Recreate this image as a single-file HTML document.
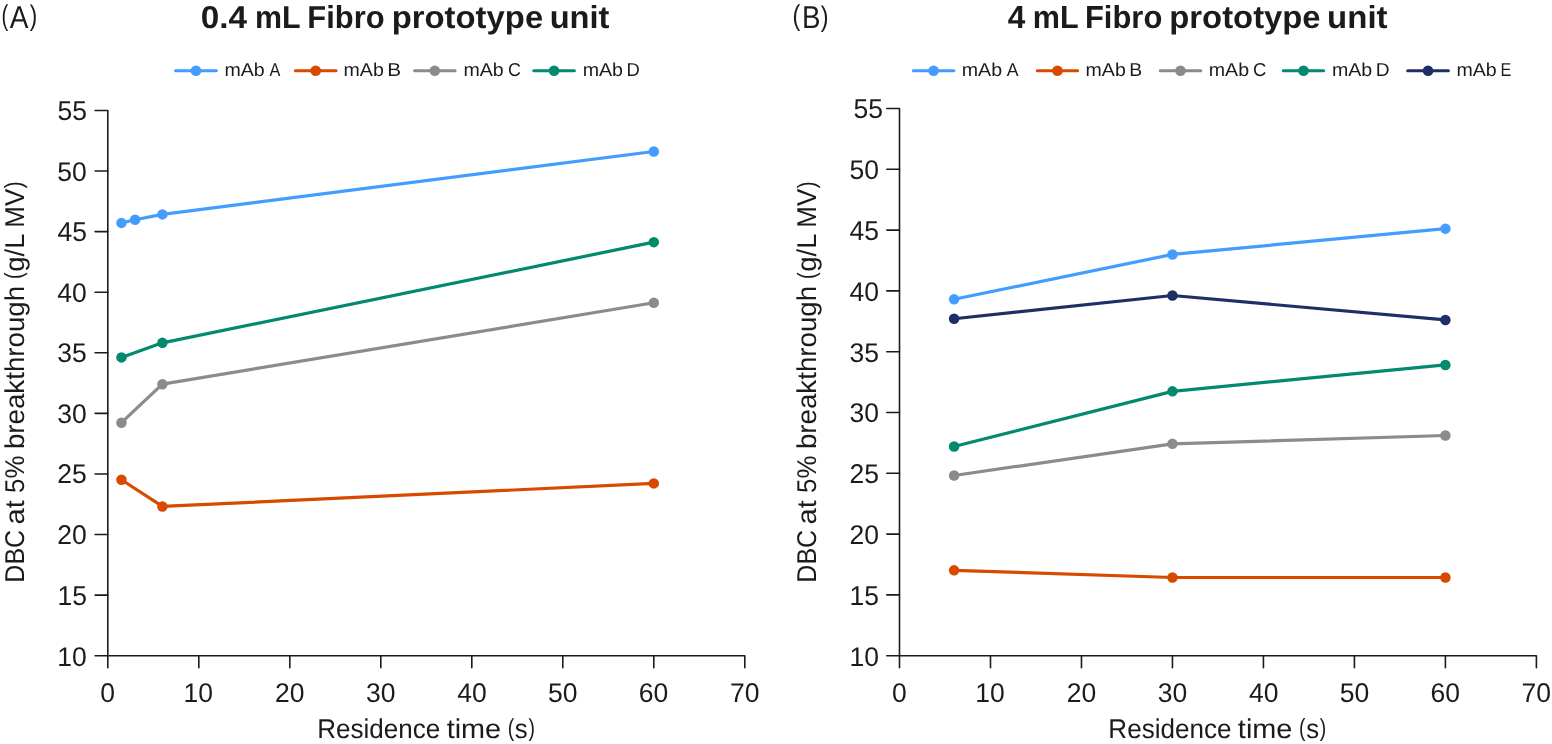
<!DOCTYPE html>
<html><head><meta charset="utf-8"><title>DBC vs residence time</title>
<style>
html,body{margin:0;padding:0;background:#fff;}
body{width:1552px;height:744px;overflow:hidden;}
svg{display:block;will-change:transform;text-rendering:geometricPrecision;font-family:"Liberation Sans",sans-serif;fill:#1b1b1e;}
</style></head><body>
<svg width="1552" height="744" viewBox="0 0 1552 744">
<path d="M175.5 70.7H216.4" stroke="#439dff" stroke-width="3.0" stroke-linecap="round"/>
<circle cx="195.95" cy="70.7" r="5.3" fill="#439dff"/>
<path d="M295.4 70.7H336" stroke="#d84a00" stroke-width="3.0" stroke-linecap="round"/>
<circle cx="315.7" cy="70.7" r="5.3" fill="#d84a00"/>
<path d="M414.5 70.7H455.1" stroke="#8b8b8d" stroke-width="3.0" stroke-linecap="round"/>
<circle cx="434.8" cy="70.7" r="5.3" fill="#8b8b8d"/>
<path d="M533.7 70.7H574.4" stroke="#02896e" stroke-width="3.0" stroke-linecap="round"/>
<circle cx="554.05" cy="70.7" r="5.3" fill="#02896e"/>
<path d="M913.3 70.7H953.9" stroke="#439dff" stroke-width="3.0" stroke-linecap="round"/>
<circle cx="933.6" cy="70.7" r="5.3" fill="#439dff"/>
<path d="M1037.3 70.7H1077.6" stroke="#d84a00" stroke-width="3.0" stroke-linecap="round"/>
<circle cx="1057.45" cy="70.7" r="5.3" fill="#d84a00"/>
<path d="M1160.2 70.7H1200.8" stroke="#8b8b8d" stroke-width="3.0" stroke-linecap="round"/>
<circle cx="1180.5" cy="70.7" r="5.3" fill="#8b8b8d"/>
<path d="M1283.3 70.7H1323.7" stroke="#02896e" stroke-width="3.0" stroke-linecap="round"/>
<circle cx="1303.5" cy="70.7" r="5.3" fill="#02896e"/>
<path d="M1407.7 70.7H1448.4" stroke="#1e2f66" stroke-width="3.0" stroke-linecap="round"/>
<circle cx="1428.05" cy="70.7" r="5.3" fill="#1e2f66"/>
<path d="M95.1 110.45H107.8V667.8" fill="none" stroke="#1b1b1e" stroke-width="1.6" stroke-linejoin="round" stroke-linecap="round"/>
<path d="M95.1 655.7H744.8V667.8" fill="none" stroke="#1b1b1e" stroke-width="1.6" stroke-linejoin="round" stroke-linecap="round"/>
<path d="M95.1 595.12H107.8M95.1 534.53H107.8M95.1 473.95H107.8M95.1 413.37H107.8M95.1 352.78H107.8M95.1 292.2H107.8M95.1 231.62H107.8M95.1 171.03H107.8M198.8 655.7V667.8M289.8 655.7V667.8M380.8 655.7V667.8M471.8 655.7V667.8M562.8 655.7V667.8M653.8 655.7V667.8" fill="none" stroke="#1b1b1e" stroke-width="1.6" stroke-linecap="round"/>
<path d="M121.45 222.89L135.1 219.74L162.4 214.41L653.8 151.53" fill="none" stroke="#439dff" stroke-width="3.2" stroke-linejoin="round"/>
<circle cx="121.45" cy="222.89" r="5.25" fill="#439dff"/>
<circle cx="135.1" cy="219.74" r="5.25" fill="#439dff"/>
<circle cx="162.4" cy="214.41" r="5.25" fill="#439dff"/>
<circle cx="653.8" cy="151.53" r="5.25" fill="#439dff"/>
<path d="M121.45 479.77L162.4 506.42L653.8 483.4" fill="none" stroke="#d84a00" stroke-width="3.2" stroke-linejoin="round"/>
<circle cx="121.45" cy="479.77" r="5.25" fill="#d84a00"/>
<circle cx="162.4" cy="506.42" r="5.25" fill="#d84a00"/>
<circle cx="653.8" cy="483.4" r="5.25" fill="#d84a00"/>
<path d="M121.45 422.7L162.4 384.17L653.8 302.74" fill="none" stroke="#8b8b8d" stroke-width="3.2" stroke-linejoin="round"/>
<circle cx="121.45" cy="422.7" r="5.25" fill="#8b8b8d"/>
<circle cx="162.4" cy="384.17" r="5.25" fill="#8b8b8d"/>
<circle cx="653.8" cy="302.74" r="5.25" fill="#8b8b8d"/>
<path d="M121.45 357.39L162.4 342.85L653.8 242.16" fill="none" stroke="#02896e" stroke-width="3.2" stroke-linejoin="round"/>
<circle cx="121.45" cy="357.39" r="5.25" fill="#02896e"/>
<circle cx="162.4" cy="342.85" r="5.25" fill="#02896e"/>
<circle cx="653.8" cy="242.16" r="5.25" fill="#02896e"/>
<path d="M886.8 108.5H899.5V667.8" fill="none" stroke="#1b1b1e" stroke-width="1.6" stroke-linejoin="round" stroke-linecap="round"/>
<path d="M886.8 655.7H1536.4V667.8" fill="none" stroke="#1b1b1e" stroke-width="1.6" stroke-linejoin="round" stroke-linecap="round"/>
<path d="M886.8 594.9H899.5M886.8 534.1H899.5M886.8 473.3H899.5M886.8 412.5H899.5M886.8 351.7H899.5M886.8 290.9H899.5M886.8 230.1H899.5M886.8 169.3H899.5M990.49 655.7V667.8M1081.47 655.7V667.8M1172.46 655.7V667.8M1263.44 655.7V667.8M1354.43 655.7V667.8M1445.41 655.7V667.8" fill="none" stroke="#1b1b1e" stroke-width="1.6" stroke-linecap="round"/>
<path d="M954.09 299.29L1172.46 254.42L1445.41 228.64" fill="none" stroke="#439dff" stroke-width="3.2" stroke-linejoin="round"/>
<circle cx="954.09" cy="299.29" r="5.25" fill="#439dff"/>
<circle cx="1172.46" cy="254.42" r="5.25" fill="#439dff"/>
<circle cx="1445.41" cy="228.64" r="5.25" fill="#439dff"/>
<path d="M954.09 570.34L1172.46 577.51L1445.41 577.51" fill="none" stroke="#d84a00" stroke-width="3.2" stroke-linejoin="round"/>
<circle cx="954.09" cy="570.34" r="5.25" fill="#d84a00"/>
<circle cx="1172.46" cy="577.51" r="5.25" fill="#d84a00"/>
<circle cx="1445.41" cy="577.51" r="5.25" fill="#d84a00"/>
<path d="M954.09 475.49L1172.46 443.87L1445.41 435.48" fill="none" stroke="#8b8b8d" stroke-width="3.2" stroke-linejoin="round"/>
<circle cx="954.09" cy="475.49" r="5.25" fill="#8b8b8d"/>
<circle cx="1172.46" cy="443.87" r="5.25" fill="#8b8b8d"/>
<circle cx="1445.41" cy="435.48" r="5.25" fill="#8b8b8d"/>
<path d="M954.09 446.43L1172.46 391.34L1445.41 364.95" fill="none" stroke="#02896e" stroke-width="3.2" stroke-linejoin="round"/>
<circle cx="954.09" cy="446.43" r="5.25" fill="#02896e"/>
<circle cx="1172.46" cy="391.34" r="5.25" fill="#02896e"/>
<circle cx="1445.41" cy="364.95" r="5.25" fill="#02896e"/>
<path d="M954.09 318.75L1172.46 295.52L1445.41 319.96" fill="none" stroke="#1e2f66" stroke-width="3.2" stroke-linejoin="round"/>
<circle cx="954.09" cy="318.75" r="5.25" fill="#1e2f66"/>
<circle cx="1172.46" cy="295.52" r="5.25" fill="#1e2f66"/>
<circle cx="1445.41" cy="319.96" r="5.25" fill="#1e2f66"/>
<text transform="translate(1.59,25.43) scale(0.6785,0.9510)" style="font-size:30px">(</text>
<text transform="translate(9.66,27.66) scale(0.9354,1.0590)" style="font-size:30px">A</text>
<text transform="translate(29.82,25.44) scale(0.7476,0.9494)" style="font-size:30px">)</text>
<text transform="translate(792.6,25.41) scale(0.7754,0.9505)" style="font-size:30px">(</text>
<text transform="translate(802.05,27.66) scale(0.9258,1.0590)" style="font-size:30px">B</text>
<text transform="translate(820.68,25.66) scale(0.7763,0.9491)" style="font-size:30px">)</text>
<text transform="translate(200.84,27.52) scale(1.0574,1.0035)" style="font-size:31.5px;font-weight:bold">0.4</text>
<text transform="translate(255.09,27.52) scale(0.9644,1.0035)" style="font-size:31.5px;font-weight:bold">mL</text>
<text transform="translate(307.37,27.52) scale(0.9825,1.0035)" style="font-size:31.5px;font-weight:bold">Fibro</text>
<text transform="translate(391.67,27.52) scale(1.0430,1.0035)" style="font-size:31.5px;font-weight:bold">prototype</text>
<text transform="translate(549.68,27.52) scale(1.0359,1.0035)" style="font-size:31.5px;font-weight:bold">unit</text>
<text transform="translate(1007.63,27.52) scale(1.0032,1.0114)" style="font-size:31.5px;font-weight:bold">4</text>
<text transform="translate(1032.87,27.52) scale(0.9702,1.0114)" style="font-size:31.5px;font-weight:bold">mL</text>
<text transform="translate(1084.93,27.52) scale(0.9824,1.0114)" style="font-size:31.5px;font-weight:bold">Fibro</text>
<text transform="translate(1169.3,27.52) scale(1.0418,1.0114)" style="font-size:31.5px;font-weight:bold">prototype</text>
<text transform="translate(1327.1,27.52) scale(1.0466,1.0114)" style="font-size:31.5px;font-weight:bold">unit</text>
<text transform="translate(224.48,75.66) scale(1.0583,1.0070)" style="font-size:18.5px">mAb</text>
<text transform="translate(269.62,75.66) scale(0.8791,1.0070)" style="font-size:18.5px">A</text>
<text transform="translate(343.57,75.66) scale(1.0570,1.0070)" style="font-size:18.5px">mAb</text>
<text transform="translate(387.15,75.66) scale(1.1209,1.0070)" style="font-size:18.5px">B</text>
<text transform="translate(463.48,75.66) scale(1.0583,1.0070)" style="font-size:18.5px">mAb</text>
<text transform="translate(507.89,75.66) scale(0.9661,1.0070)" style="font-size:18.5px">C</text>
<text transform="translate(582.63,75.66) scale(1.0602,1.0070)" style="font-size:18.5px">mAb</text>
<text transform="translate(626.44,75.66) scale(0.9945,1.0070)" style="font-size:18.5px">D</text>
<text transform="translate(961.72,75.66) scale(1.0600,1.0070)" style="font-size:18.5px">mAb</text>
<text transform="translate(1006.86,75.66) scale(0.9560,1.0070)" style="font-size:18.5px">A</text>
<text transform="translate(1085.57,75.66) scale(1.0570,1.0070)" style="font-size:18.5px">mAb</text>
<text transform="translate(1129.25,75.66) scale(1.0459,1.0070)" style="font-size:18.5px">B</text>
<text transform="translate(1208.72,75.66) scale(1.0600,1.0070)" style="font-size:18.5px">mAb</text>
<text transform="translate(1253.11,75.66) scale(0.9992,1.0070)" style="font-size:18.5px">C</text>
<text transform="translate(1331.97,75.66) scale(1.0586,1.0070)" style="font-size:18.5px">mAb</text>
<text transform="translate(1375.63,75.66) scale(1.0328,1.0070)" style="font-size:18.5px">D</text>
<text transform="translate(1456.48,75.66) scale(1.0583,1.0070)" style="font-size:18.5px">mAb</text>
<text transform="translate(1500.41,75.66) scale(0.8788,1.0070)" style="font-size:18.5px">E</text>
<text transform="translate(317.17,737.6) scale(1.0008,1.0426)" style="font-size:26px">Residence</text>
<text transform="translate(446.65,737.6) scale(1.1094,1.0426)" style="font-size:26px">time</text>
<text transform="translate(514.87,737.6) scale(0.9901,1.0426)" style="font-size:26px">s</text>
<text transform="translate(507.86,735.6) scale(0.7496,0.9470)" style="font-size:26px">(</text>
<text transform="translate(528.45,735.67) scale(0.7439,0.9488)" style="font-size:26px">)</text>
<text transform="translate(1108.37,737.6) scale(1.0012,1.0426)" style="font-size:26px">Residence</text>
<text transform="translate(1237.86,737.6) scale(1.1104,1.0426)" style="font-size:26px">time</text>
<text transform="translate(1306.2,737.6) scale(0.9869,1.0426)" style="font-size:26px">s</text>
<text transform="translate(1299.12,735.64) scale(0.7432,0.9505)" style="font-size:26px">(</text>
<text transform="translate(1319.63,735.58) scale(0.7486,0.9484)" style="font-size:26px">)</text>
<text transform="translate(24.32,582.69) scale(1.0461,0.9626) rotate(-90)" style="font-size:26px">DBC</text>
<text transform="translate(24.32,524.49) scale(1.0461,1.1172) rotate(-90)" style="font-size:26px">at</text>
<text transform="translate(24.32,492.94) scale(1.0461,0.9932) rotate(-90)" style="font-size:26px">5%</text>
<text transform="translate(24.32,449.12) scale(1.0461,1.0657) rotate(-90)" style="font-size:26px">breakthrough</text>
<text transform="translate(24.32,271.77) scale(1.0461,1.0567) rotate(-90)" style="font-size:26px">g/L</text>
<text transform="translate(24.32,227.68) scale(1.0461,0.9954) rotate(-90)" style="font-size:26px">MV</text>
<text transform="translate(22.46,279.09) scale(0.9601,0.7544) rotate(-90)" style="font-size:26px">(</text>
<text transform="translate(22.46,188.13) scale(0.9600,0.7877) rotate(-90)" style="font-size:26px">)</text>
<text transform="translate(815.68,582.69) scale(1.0461,0.9626) rotate(-90)" style="font-size:26px">DBC</text>
<text transform="translate(815.68,524.49) scale(1.0461,1.1172) rotate(-90)" style="font-size:26px">at</text>
<text transform="translate(815.68,492.94) scale(1.0461,0.9932) rotate(-90)" style="font-size:26px">5%</text>
<text transform="translate(815.68,449.12) scale(1.0461,1.0657) rotate(-90)" style="font-size:26px">breakthrough</text>
<text transform="translate(815.68,271.77) scale(1.0461,1.0567) rotate(-90)" style="font-size:26px">g/L</text>
<text transform="translate(815.68,227.68) scale(1.0461,0.9954) rotate(-90)" style="font-size:26px">MV</text>
<text transform="translate(814.51,279.09) scale(0.9601,0.7544) rotate(-90)" style="font-size:26px">(</text>
<text transform="translate(814.5,188.13) scale(0.9600,0.7877) rotate(-90)" style="font-size:26px">)</text>
<text transform="translate(57.25,665.51) scale(1.0200,1.0397)" style="font-size:26px">10</text>
<text transform="translate(57.41,604.61) scale(1.0200,1.0545)" style="font-size:26px">15</text>
<text transform="translate(57.26,544.37) scale(1.0200,1.0422)" style="font-size:26px">20</text>
<text transform="translate(57.36,483.48) scale(1.0200,1.0411)" style="font-size:26px">25</text>
<text transform="translate(57.26,423.36) scale(1.0200,1.0374)" style="font-size:26px">30</text>
<text transform="translate(57.36,362.4) scale(1.0200,1.0378)" style="font-size:26px">35</text>
<text transform="translate(57.25,301.91) scale(1.0200,1.0397)" style="font-size:26px">40</text>
<text transform="translate(57.41,241.31) scale(1.0200,1.0545)" style="font-size:26px">45</text>
<text transform="translate(57.26,180.61) scale(1.0200,1.0402)" style="font-size:26px">50</text>
<text transform="translate(57.41,120.23) scale(1.0200,1.0521)" style="font-size:26px">55</text>
<text transform="translate(100.35,702.36) scale(1.0200,1.0408)" style="font-size:26px">0</text>
<text transform="translate(183.62,702.3) scale(1.0200,1.0404)" style="font-size:26px">10</text>
<text transform="translate(274.91,702.4) scale(1.0200,1.0392)" style="font-size:26px">20</text>
<text transform="translate(365.88,702.23) scale(1.0200,1.0390)" style="font-size:26px">30</text>
<text transform="translate(457.26,702.33) scale(1.0200,1.0419)" style="font-size:26px">40</text>
<text transform="translate(547.93,702.28) scale(1.0200,1.0413)" style="font-size:26px">50</text>
<text transform="translate(638.86,702.24) scale(1.0200,1.0389)" style="font-size:26px">60</text>
<text transform="translate(729.88,702.4) scale(1.0200,1.0423)" style="font-size:26px">70</text>
<text transform="translate(849.4,665.51) scale(1.0200,1.0397)" style="font-size:26px">10</text>
<text transform="translate(849.43,604.6) scale(1.0200,1.0531)" style="font-size:26px">15</text>
<text transform="translate(849.4,543.58) scale(1.0200,1.0385)" style="font-size:26px">20</text>
<text transform="translate(849.44,483.17) scale(1.0200,1.0409)" style="font-size:26px">25</text>
<text transform="translate(849.4,422.19) scale(1.0200,1.0378)" style="font-size:26px">30</text>
<text transform="translate(849.44,361.54) scale(1.0200,1.0386)" style="font-size:26px">35</text>
<text transform="translate(849.4,300.65) scale(1.0200,1.0397)" style="font-size:26px">40</text>
<text transform="translate(849.43,239.53) scale(1.0200,1.0531)" style="font-size:26px">45</text>
<text transform="translate(849.4,179.15) scale(1.0200,1.0402)" style="font-size:26px">50</text>
<text transform="translate(853.41,118.2) scale(1.0200,1.0521)" style="font-size:26px">55</text>
<text transform="translate(892.1,702.29) scale(1.0200,1.0396)" style="font-size:26px">0</text>
<text transform="translate(975.23,702.3) scale(1.0200,1.0397)" style="font-size:26px">10</text>
<text transform="translate(1066.65,702.31) scale(1.0200,1.0405)" style="font-size:26px">20</text>
<text transform="translate(1157.64,702.28) scale(1.0200,1.0391)" style="font-size:26px">30</text>
<text transform="translate(1248.89,702.36) scale(1.0200,1.0408)" style="font-size:26px">40</text>
<text transform="translate(1339.63,702.23) scale(1.0200,1.0414)" style="font-size:26px">50</text>
<text transform="translate(1430.52,702.28) scale(1.0200,1.0387)" style="font-size:26px">60</text>
<text transform="translate(1521.56,702.3) scale(1.0200,1.0407)" style="font-size:26px">70</text>
</svg>
</body></html>
